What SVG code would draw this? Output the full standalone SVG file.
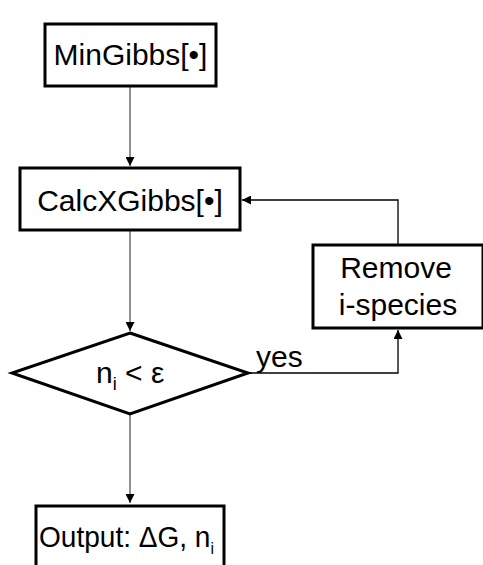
<svg xmlns="http://www.w3.org/2000/svg" width="483" height="565" viewBox="0 0 483 565">
  <style>
    .box { fill: #fff; stroke: #000; stroke-width: 3; }
    .lbl { font-family: "Liberation Sans", Arial, sans-serif; font-size: 30px; fill: #000; }
    .edge { fill: none; stroke: #555; stroke-width: 1.3; }
    .loop { fill: none; stroke: #000; stroke-width: 1.3; }
  </style>
  <defs>
    <marker id="arrow" viewBox="0 0 10 10" refX="10" refY="5" markerWidth="9" markerHeight="9" markerUnits="userSpaceOnUse" orient="auto">
      <path d="M0,0 L10,5 L0,10 Z" fill="#000"/>
    </marker>
  </defs>

  <g id="connectors">
    <line class="edge" x1="130" y1="86" x2="130" y2="166" marker-end="url(#arrow)"/>
    <line class="edge" x1="130" y1="230" x2="130" y2="331" marker-end="url(#arrow)"/>
    <line class="edge" x1="130" y1="414" x2="130" y2="503" marker-end="url(#arrow)"/>
    <polyline class="loop" points="248,373 398,373 398,330" marker-end="url(#arrow)"/>
    <polyline class="loop" points="398,245 398,200 242,200" marker-end="url(#arrow)"/>
    <text class="lbl" x="256" y="367" font-size="29">yes</text>
  </g>

  <g id="min-gibbs">
    <rect class="box" x="45" y="24" width="171" height="62"/>
    <text class="lbl" x="130.5" y="65" text-anchor="middle">MinGibbs[•]</text>
  </g>

  <g id="calc-x-gibbs">
    <rect class="box" x="20" y="168" width="220" height="62"/>
    <text class="lbl" x="130" y="211" text-anchor="middle">CalcXGibbs[•]</text>
  </g>

  <g id="remove-species">
    <rect class="box" x="313" y="245" width="170" height="83"/>
    <text class="lbl" x="396" y="278" text-anchor="middle" font-size="29">Remove</text>
    <text class="lbl" x="398" y="315" text-anchor="middle" font-size="29">i-species</text>
  </g>

  <g id="test">
    <polygon class="box" points="130,333 248,373 130,414 12,373"/>
    <text class="lbl" x="96" y="383" font-size="29">n<tspan font-size="18" dy="7">i</tspan><tspan dy="-7"> &lt; ε</tspan></text>
  </g>

  <g id="output">
    <rect class="box" x="36" y="506" width="188" height="70"/>
    <text class="lbl" x="39" y="547" font-size="29" textLength="175" lengthAdjust="spacingAndGlyphs">Output: ΔG, n<tspan font-size="17" dy="7">i</tspan></text>
  </g>
</svg>
